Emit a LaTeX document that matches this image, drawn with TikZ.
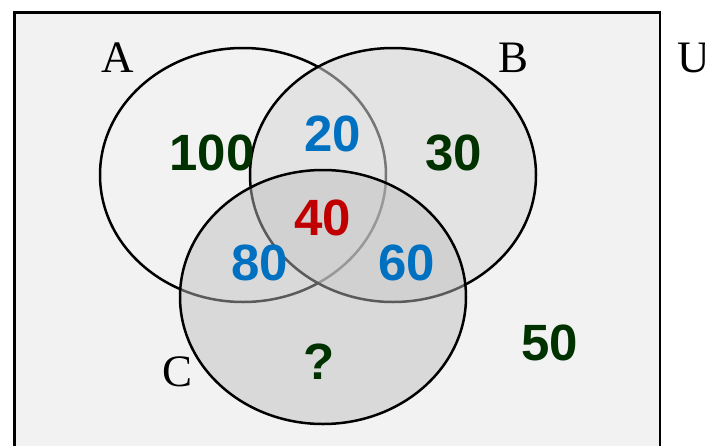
\documentclass[tikz,border=0pt]{standalone}
\usepackage{fontspec}
\setmainfont{Liberation Serif}
\newfontfamily\numfont{Liberation Sans}
\definecolor{bgc}{RGB}{242,242,242}
\definecolor{bfill}{RGB}{215,215,215}
\definecolor{cfill}{RGB}{190,190,190}
\definecolor{numgreen}{RGB}{0,50,0}
\definecolor{numblue}{RGB}{0,112,192}
\definecolor{numred}{RGB}{192,0,0}
\tikzset{
  setlabel/.style={font=\fontsize{45}{50}\selectfont, inner sep=0pt, anchor=center},
  numlabel/.style={font=\numfont\bfseries\fontsize{51}{56}\selectfont, inner sep=0pt, anchor=center},
  setline/.style={draw=black, line width=2.5pt},
}
\begin{document}
\begin{tikzpicture}[x=1pt,y=-1pt]
\useasboundingbox (0,0) rectangle (705,445);
% universe
\draw[fill=bgc, line width=2.8pt] (14.5,12.5) rectangle (660,470);
% circles
\draw[setline] (243,175) ellipse [x radius=143, y radius=127];
\draw[setline, fill=bfill, fill opacity=0.55] (393,175) ellipse [x radius=143, y radius=127];
\draw[setline, fill=cfill, fill opacity=0.48] (323,297) ellipse [x radius=143, y radius=127];
% set labels
\node[setlabel] (la) at (117.5,57.5) {A};
\node[setlabel] (lb) at (514,57.5) {B};
\node[setlabel] (lc) at (178,371.5) {C};
\node[setlabel, anchor=west] (lu) at (677,57.5) {U};
% numbers
\node[numlabel, text=numgreen] (n100) at (212,152.5) {100};
\node[numlabel, text=numblue] (n20) at (333,134) {20};
\node[numlabel, text=numgreen] (n30) at (454,152.5) {30};
\node[numlabel, text=numred] (n40) at (323,218) {40};
\node[numlabel, text=numblue] (n80) at (259.5,263) {80};
\node[numlabel, text=numblue] (n60) at (407,263) {60};
\node[numlabel, text=numgreen] (n50) at (549.5,342.5) {50};
\node[numlabel, text=numgreen] (nq) at (319.5,361.5) {?};
\end{tikzpicture}
\end{document}
